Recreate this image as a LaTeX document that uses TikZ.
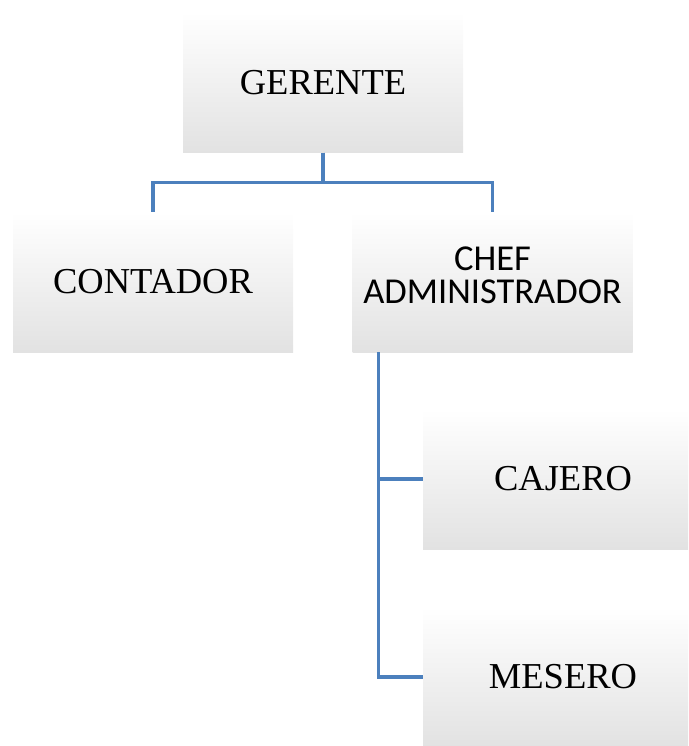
\documentclass[tikz,border=0pt]{standalone}
\usepackage{fontspec}
\setmainfont{Liberation Serif}
\newfontfamily\calibri{Carlito}
\usetikzlibrary{positioning}

\definecolor{linkblue}{RGB}{76,128,189}
\definecolor{boxgray}{RGB}{226,226,226}

\tikzstyle{bag} = [minimum width=280pt, minimum height=140pt, inner sep=0pt,
    top color=white, middle color=white, bottom color=boxgray, draw=none,
    font=\fontsize{36.5}{40}\selectfont, align=center]
\tikzstyle{link} = [draw=linkblue, line width=3.2pt]

\begin{document}
\begin{tikzpicture}[x=1pt, y=-1pt]
\useasboundingbox (0,0) rectangle (688,746);
\clip (0,0) rectangle (688,746);
\node[bag] (gerente) at (323,82.5) {GERENTE};
\node[bag] (contador) at (153,282) {CONTADOR};
\node[bag] (chef) at (492.5,282) {};
\node[font=\calibri\fontsize{36.5}{33}\selectfont, align=center] (cheftext) at (492.5,275) {CHEF\\ADMINISTRADOR};
\node[bag] (cajero) at (563,479) {CAJERO};
\node[bag] (mesero) at (563,677) {MESERO};

\draw[link] (gerente.south) -- ++(0,-30pt) -| (contador.north);
\draw[link] (gerente.south) -- ++(0,-30pt) -| (chef.north);
\draw[link] ([xshift=26.5pt]chef.south west) |- (cajero.west);
\draw[link] ([xshift=26.5pt]chef.south west) |- (mesero.west);
\end{tikzpicture}
\end{document}
